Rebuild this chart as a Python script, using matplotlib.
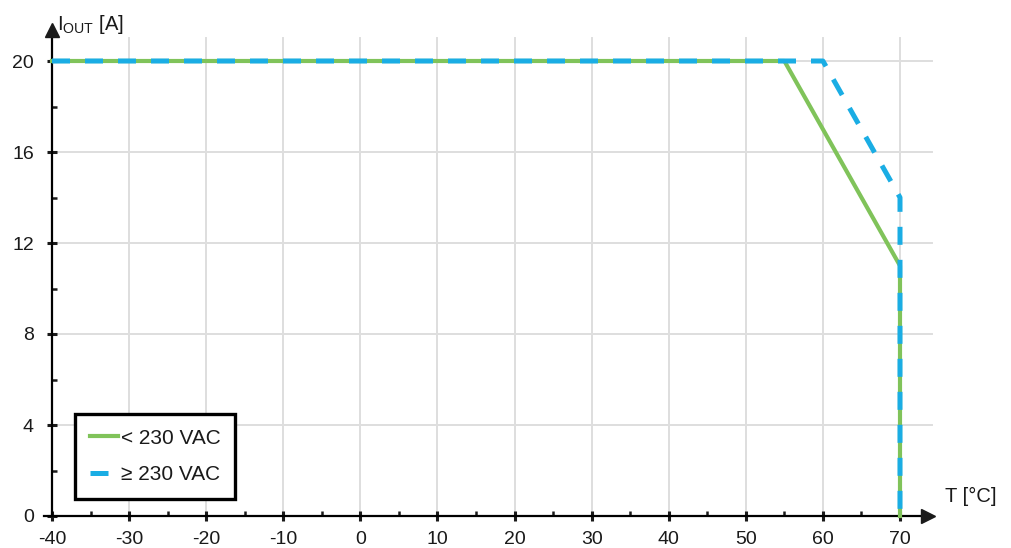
import matplotlib
matplotlib.use("Agg")
import matplotlib.pyplot as plt

plt.rcParams["font.family"] = ["Liberation Sans", "DejaVu Sans"]
plt.rcParams["mathtext.fontset"] = "custom"
plt.rcParams["mathtext.rm"] = "Liberation Sans"
plt.rcParams["axes.unicode_minus"] = False

# derating curves, temperature in degC, output current in A
temp_low = [-40, 55, 70, 70]
current_low = [20, 20, 11, 0]
temp_high = [-40, 60, 70, 70]
current_high = [20, 20, 14, 0]

series_labels = ["< 230 VAC", "\u2265 230 VAC"]
x_ticks = list(range(-40, 71, 10))
y_ticks = list(range(0, 21, 4))

GREEN = "#80C35A"
BLUE = "#1AADE4"
GRID = "#DEDEDE"
INK = "#1a1a1a"

W, H = 1011, 548
fig = plt.figure(figsize=(W / 100, H / 100), dpi=100)

# axes placed so that x=-40 -> px 52, x=70 -> px 900, y=0 -> px 516, y=20 -> px 61
xpx = (900 - 52) / 110
ypx = (516 - 61) / 20
x0, x1 = -42.0, 77.0
y0, y1 = -0.6, 22.5
left = 52 + (x0 + 40) * xpx
right = 52 + (x1 + 40) * xpx
bottom = 516 - y0 * ypx
top = 516 - y1 * ypx
ax = fig.add_axes([left / W, 1 - bottom / H, (right - left) / W, (bottom - top) / H])
ax.set_xlim(x0, x1)
ax.set_ylim(y0, y1)

# grid
for x in x_ticks[1:]:
    ax.plot([x, x], [0, 21], color=GRID, lw=1.4, zorder=0)
for y in y_ticks[1:]:
    ax.plot([-40, 74.2], [y, y], color=GRID, lw=1.4, zorder=0)

# spines as arrow axes
for side in ["top", "right"]:
    ax.spines[side].set_visible(False)
ax.spines["left"].set_position(("data", -40))
ax.spines["bottom"].set_position(("data", 0))
ax.spines["left"].set_bounds(0, 21.2)
ax.spines["bottom"].set_bounds(-41, 73.5)
ax.spines["left"].set_linewidth(1.6)
ax.spines["bottom"].set_linewidth(1.6)
ax.plot(73.6, 0, marker=">", color=INK, ms=10, clip_on=False, zorder=5)
ax.plot(-40, 21.35, marker="^", color=INK, ms=10, clip_on=False, zorder=5)

ax.set_xticks(x_ticks)
ax.set_yticks(y_ticks)
ax.set_xticks([t + 5 for t in x_ticks[:-1]], minor=True)
ax.set_yticks([t + 2 for t in y_ticks[:-1]], minor=True)
ax.tick_params(which="major", direction="inout", length=7.2, width=2.2,
               labelsize=14, colors=INK)
ax.tick_params(which="minor", direction="in", length=3.5, width=1.8, colors=INK)
ax.tick_params(axis="x", which="major", pad=7.5)
ax.tick_params(axis="y", which="major", pad=9.5)

# curves
ax.plot(temp_low, current_low, color=GREEN, lw=3.0, label=series_labels[0],
        clip_on=False, zorder=3)
ax.plot(temp_high, current_high, color=BLUE, lw=3.6, dashes=(3.6, 3.0),
        label=series_labels[1], clip_on=False, zorder=4)

# axis labels
fig.text(57 / W, 1 - 24 / H, r"$\mathrm{I_{OUT}}$ [A]", fontsize=14.5,
         ha="left", va="center", color=INK)
fig.text(945 / W, 1 - 496 / H, "T [\u00b0C]", fontsize=14.5,
         ha="left", va="center", color=INK)

leg = ax.legend(loc="lower left", bbox_to_anchor=((75 - left) / (right - left),
                (bottom - 499) / (bottom - top)),
                fontsize=15, frameon=True, fancybox=False, framealpha=1,
                edgecolor="black", borderpad=0.7, handlelength=1.35,
                handletextpad=0.15, labelspacing=0.85, borderaxespad=0)
leg.get_frame().set_linewidth(2.4)
for t in leg.get_texts():
    t.set_color(INK)

fig.savefig("out.png", dpi=100)
